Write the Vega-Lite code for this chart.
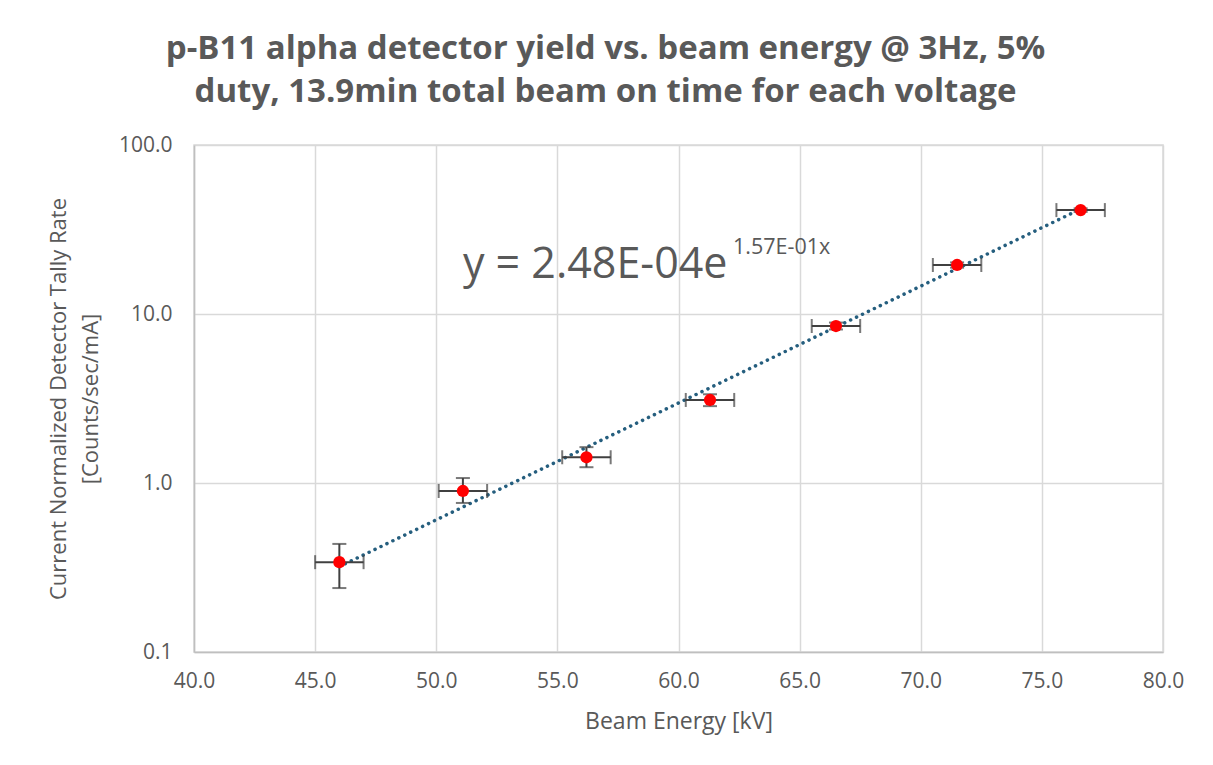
{
  "$schema": "https://vega.github.io/schema/vega-lite/v6.json",
  "width": 969,
  "height": 507,
  "autosize": {"type": "none"},
  "padding": {"left": 194, "top": 145, "right": 50, "bottom": 113},
  "background": "white",
  "config": {
    "font": "Open Sans",
    "view": {"stroke": "#d9d9d9", "strokeWidth": 1.5},
    "axis": {
      "labelFont": "Open Sans",
      "titleFont": "Open Sans",
      "labelColor": "#595959",
      "titleColor": "#595959",
      "labelFontSize": 21,
      "titleFontWeight": "normal",
      "gridColor": "#d9d9d9",
      "gridWidth": 1.5,
      "domainColor": "#bfbfbf",
      "domainWidth": 1.5,
      "ticks": false,
      "labelFlush": false
    }
  },
  "title": {
    "text": ["p-B11 alpha detector yield vs. beam energy @ 3Hz, 5%", "duty, 13.9min total beam on time for each voltage"],
    "font": "Open Sans",
    "fontSize": 33,
    "fontWeight": "bold",
    "color": "#595959",
    "anchor": "middle",
    "frame": "group",
    "dx": -73,
    "offset": 25,
    "lineHeight": 43
  },
  "data": {
    "values": [
      {"energy": 46.0, "rate": 0.340, "elo": 45.0, "ehi": 47.0, "rlo": 0.239, "rhi": 0.436},
      {"energy": 51.1, "rate": 0.897, "elo": 50.1, "ehi": 52.1, "rlo": 0.762, "rhi": 1.07},
      {"energy": 56.2, "rate": 1.42, "elo": 55.2, "ehi": 57.2, "rlo": 1.24, "rhi": 1.63},
      {"energy": 61.3, "rate": 3.10, "elo": 60.3, "ehi": 62.3, "rlo": 2.85, "rhi": 3.35},
      {"energy": 66.5, "rate": 8.49, "elo": 65.5, "ehi": 67.5, "rlo": 8.1, "rhi": 8.9},
      {"energy": 71.5, "rate": 19.5, "elo": 70.5, "ehi": 72.5, "rlo": 18.8, "rhi": 20.2},
      {"energy": 76.6, "rate": 41.2, "elo": 75.6, "ehi": 77.6, "rlo": 40.2, "rhi": 42.2}
    ]
  },
  "encoding": {
    "x": {
      "field": "energy",
      "type": "quantitative",
      "scale": {"domain": [40, 80], "nice": false, "zero": false},
      "axis": {
        "title": "Beam Energy [kV]",
        "titleFontSize": 23,
        "values": [40, 45, 50, 55, 60, 65, 70, 75, 80],
        "format": ".1f",
        "labelPadding": 18,
        "titlePadding": 19
      }
    },
    "y": {
      "field": "rate",
      "type": "quantitative",
      "scale": {"type": "log", "domain": [0.1, 100], "nice": false},
      "axis": {
        "title": ["Current Normalized Detector Tally Rate", "[Counts/sec/mA]"],
        "titleFontSize": 22,
        "titleLineHeight": 32,
        "values": [0.1, 1, 10, 100],
        "format": ".1f",
        "labelPadding": 22,
        "titlePadding": 16
      }
    }
  },
  "layer": [
    {
      "transform": [{"regression": "rate", "on": "energy", "method": "exp"}],
      "mark": {"type": "line", "color": "#255E7E", "strokeWidth": 3.5, "strokeDash": [0.1, 6.5], "strokeCap": "round"}
    },
    {
      "mark": {"type": "errorbar", "ticks": {"size": 14, "color": "#404040", "strokeWidth": 2}, "color": "#404040", "thickness": 2},
      "encoding": {
        "x": {"field": "elo", "type": "quantitative"},
        "x2": {"field": "ehi"}
      }
    },
    {
      "mark": {"type": "errorbar", "ticks": {"size": 14, "color": "#404040", "strokeWidth": 2}, "color": "#404040", "thickness": 2},
      "encoding": {
        "y": {"field": "rlo", "type": "quantitative"},
        "y2": {"field": "rhi"}
      }
    },
    {
      "mark": {"type": "point", "filled": true, "color": "#FF0000", "opacity": 1, "size": 150}
    },
    {
      "data": {"values": [{"energy": 51.1, "rate": 19.5, "label": "y = 2.48E-04e"}]},
      "mark": {"type": "text", "align": "left", "baseline": "middle", "fontSize": 43, "color": "#595959", "font": "Open Sans"},
      "encoding": {"text": {"field": "label"}}
    },
    {
      "data": {"values": [{"energy": 62.25, "rate": 24.5, "label": "1.57E-01x"}]},
      "mark": {"type": "text", "align": "left", "baseline": "middle", "fontSize": 21.5, "color": "#595959", "font": "Open Sans"},
      "encoding": {"text": {"field": "label"}}
    }
  ]
}
